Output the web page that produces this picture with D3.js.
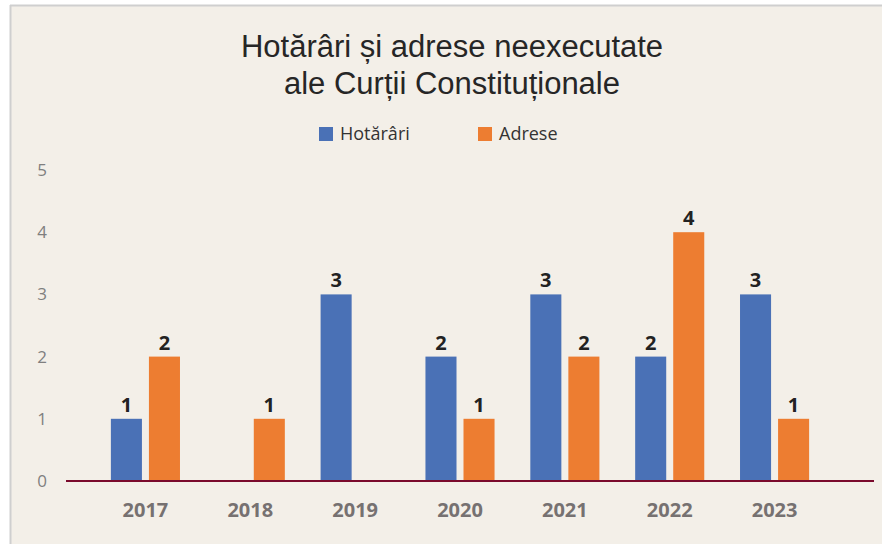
<!DOCTYPE html>
<html>
<head>
<meta charset="utf-8">
<script src="https://cdn.jsdelivr.net/npm/d3@7"></script>
<style>
  body { margin: 0; background: #fff; }
  svg { display: block; }
</style>
</head>
<body>
<div id="chart-container"></div>
<script>
// data
const years = ["2017", "2018", "2019", "2020", "2021", "2022", "2023"]
const seriesNames = ["Hotărâri", "Adrese"]
const hotarari = [1, 0, 3, 2, 3, 2, 3]
const adrese = [2, 1, 0, 1, 2, 4, 1]
const yTicks = [0, 1, 2, 3, 4, 5]
const colors = ["#4A71B6", "#ED7D31"]

const W = 882, H = 544

const svg = d3.select("#chart-container")
  .append("svg")
  .attr("width", W)
  .attr("height", H)

// panel background + light border (top and left)
svg.append("rect")
  .attr("x", 11).attr("y", 6)
  .attr("width", W - 11).attr("height", H - 6)
  .attr("fill", "#F3EFE8")
svg.append("line")
  .attr("x1", 10.5).attr("x2", 10.5).attr("y1", 5).attr("y2", H)
  .attr("stroke", "#CFCFCF").attr("stroke-width", 2)
svg.append("line")
  .attr("x1", 10).attr("x2", W).attr("y1", 5.5).attr("y2", 5.5)
  .attr("stroke", "#CFCFCF").attr("stroke-width", 2)

// scales
const x0 = d3.scaleBand()
  .domain(years)
  .range([93, 827])
  .padding(0)

const x1 = d3.scaleBand()
  .domain(seriesNames)
  .range([0, x0.bandwidth()])
  .paddingInner(0.184)
  .paddingOuter(0.47)

const y = d3.scaleLinear()
  .domain([0, 5])
  .range([481, 170])

const rows = years.map((yr, i) => ({
  year: yr,
  values: [
    { key: seriesNames[0], value: hotarari[i] },
    { key: seriesNames[1], value: adrese[i] }
  ]
}))

// y axis (labels only)
const yAxis = svg.append("g")
  .attr("transform", "translate(50,0)")
  .call(d3.axisLeft(y).tickValues(yTicks).tickSize(0).tickPadding(0).tickFormat(d3.format("d")))
yAxis.select(".domain").remove()
yAxis.selectAll("text")
  .attr("text-anchor", "middle")
  .attr("x", -8)
  .style("font-family", "'Open Sans', sans-serif")
  .style("font-size", "17px")
  .attr("fill", "#7F7F7F")

// bars
const groups = svg.selectAll(".grp")
  .data(rows)
  .enter().append("g")
  .attr("class", "grp")
  .attr("transform", d => `translate(${x0(d.year)},0)`)

groups.selectAll("rect")
  .data(d => d.values.filter(v => v.value > 0))
  .enter().append("rect")
  .attr("x", d => x1(d.key))
  .attr("y", d => y(d.value))
  .attr("width", x1.bandwidth())
  .attr("height", d => y(0) - y(d.value))
  .attr("fill", d => colors[seriesNames.indexOf(d.key)])

// value labels
groups.selectAll(".label")
  .data(d => d.values.filter(v => v.value > 0))
  .enter().append("text")
  .attr("class", "label")
  .attr("x", d => x1(d.key) + x1.bandwidth() / 2)
  .attr("y", d => y(d.value) - 7)
  .attr("text-anchor", "middle")
  .style("font-family", "'Open Sans', sans-serif")
  .style("font-weight", "bold")
  .style("font-size", "20px")
  .attr("fill", "#222")
  .text(d => d.value)

// baseline
svg.append("line")
  .attr("x1", 66).attr("x2", 874)
  .attr("y1", y(0)).attr("y2", y(0))
  .attr("stroke", "#7A0A2C").attr("stroke-width", 2)

// x axis labels
const xAxis = svg.append("g")
  .attr("transform", `translate(0,${y(0)})`)
  .call(d3.axisBottom(x0).tickSize(0).tickPadding(22))
xAxis.select(".domain").remove()
xAxis.selectAll("text")
  .style("font-family", "'Open Sans', sans-serif")
  .style("font-weight", "bold")
  .style("font-size", "20px")
  .attr("fill", "#767171")

// title
const title = svg.append("text")
  .attr("text-anchor", "middle")
  .style("font-family", "'Liberation Sans', Arial, sans-serif")
  .style("font-size", "31px")
  .attr("fill", "#262626")
title.append("tspan").attr("x", 452).attr("y", 57).text("Hotărâri și adrese neexecutate")
title.append("tspan").attr("x", 452).attr("y", 94).text("ale Curții Constituționale")

// legend
const legendX = [319, 478]
const legend = svg.selectAll(".legend")
  .data(seriesNames)
  .enter().append("g")
  .attr("class", "legend")
  .attr("transform", (d, i) => `translate(${legendX[i]},127)`)
legend.append("rect")
  .attr("width", 14).attr("height", 14)
  .attr("fill", (d, i) => colors[i])
legend.append("text")
  .attr("x", 21).attr("y", 13)
  .style("font-family", "'Open Sans', sans-serif")
  .style("font-size", "18px")
  .attr("fill", "#333")
  .text(d => d)
</script>
</body>
</html>
